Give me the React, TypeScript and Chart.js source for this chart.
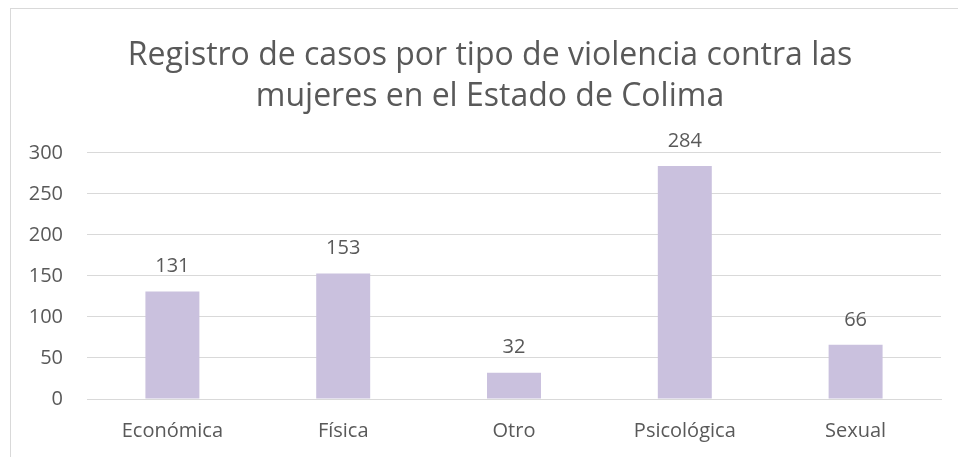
import React, { useEffect, useRef } from "react";
import { Chart, registerables } from "chart.js";

Chart.register(...registerables);

const categories = ["Económica", "Física", "Otro", "Psicológica", "Sexual"];
const casos = [131, 153, 32, 284, 66];
const titleLines = ["Registro de casos por tipo de violencia contra las", "mujeres en el Estado de Colima"];

const FONT = "'Open Sans', sans-serif";
const TEXT = "#595959";

const valueLabels = {
  id: "valueLabels",
  afterDatasetsDraw(chart: any) {
    const ctx = chart.ctx;
    const meta = chart.getDatasetMeta(0);
    ctx.save();
    ctx.font = `20px ${FONT}`;
    ctx.fillStyle = TEXT;
    ctx.textAlign = "center";
    ctx.textBaseline = "middle";
    meta.data.forEach((bar: any, i: number) => {
      ctx.fillText(String(chart.data.datasets[0].data[i]), bar.x, bar.y - 25);
    });
    ctx.restore();
  },
};

// The original chart frame is wider than the visible crop, so its title is centred further right.
const shiftTitle = {
  id: "shiftTitle",
  afterLayout(chart: any) {
    const t = chart.titleBlock;
    if (t) {
      t.left = 0;
      t.right = 980;
    }
  },
};

export default function App() {
  const ref = useRef<HTMLCanvasElement>(null);
  useEffect(() => {
    if (!ref.current) return;
    const chart = new Chart(ref.current, {
      type: "bar",
      data: {
        labels: categories,
        datasets: [
          {
            data: casos,
            backgroundColor: "#CAC1DE",
            borderWidth: 0,
            categoryPercentage: 1,
            barPercentage: 0.316,
          },
        ],
      },
      options: {
        responsive: false,
        animation: false,
        layout: { padding: { left: 0, right: 17, top: 0, bottom: 0 } },
        plugins: {
          legend: { display: false },
          tooltip: { enabled: false },
          title: {
            display: true,
            text: titleLines,
            color: TEXT,
            font: { family: FONT, size: 32, weight: "normal", lineHeight: 1.28 },
            padding: { top: 35, bottom: 36 },
          },
        },
        scales: {
          x: {
            grid: { display: false },
            border: { display: true, color: "#d9d9d9", width: 1 },
            ticks: { color: TEXT, font: { family: FONT, size: 20 }, padding: 12 },
            afterFit: (s: any) => {
              s.height = 58;
            },
          },
          y: {
            min: 0,
            max: 300,
            grid: { color: "#d9d9d9", drawTicks: false },
            border: { display: false },
            ticks: { stepSize: 50, color: TEXT, font: { family: FONT, size: 20 }, padding: 24 },
            afterFit: (s: any) => {
              s.width = 87;
            },
          },
        },
      },
      plugins: [valueLabels, shiftTitle],
    });
    return () => chart.destroy();
  }, []);
  return (
    <div>
      <div
        style={{
          position: "fixed",
          left: 10,
          top: 8,
          width: 1200,
          height: 1200,
          border: "1px solid #d9d9d9",
          boxSizing: "border-box",
        }}
      />
      <canvas
        ref={ref}
        width={958}
        height={457}
        style={{ position: "fixed", left: 0, top: 0, width: 958, height: 457 }}
      />
    </div>
  );
}
